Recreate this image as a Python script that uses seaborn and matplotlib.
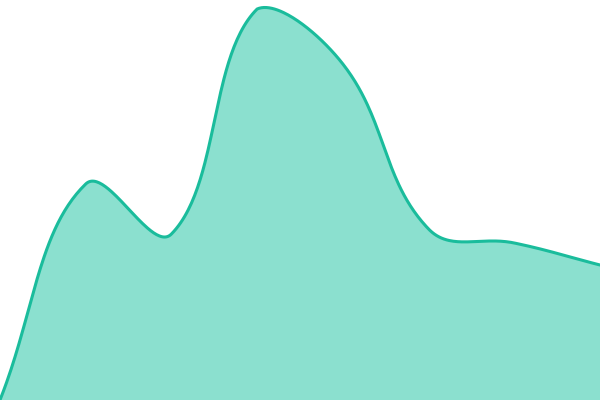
import numpy as np
import pandas as pd
import matplotlib
matplotlib.use("Agg")
import matplotlib.pyplot as plt
import seaborn as sns

# Data (8 evenly spaced categories, values in chart units 0..400)
categories = list(range(8))
values = [0, 216, 166, 391, 336, 171, 157, 135]

LINE = "#1abc9c"
FILL = "#8be0cf"

sns.set_theme(style="white")

W, H = 600, 400
fig = plt.figure(figsize=(6, 4), dpi=100)
ax = fig.add_axes([0, 0, 1, 1])
ax.set_xlim(0, W)
ax.set_ylim(0, H)

# pixel positions via linear scale
xs = np.array(categories, dtype=float) / (len(categories) - 1) * W
ys = np.array(values, dtype=float)

# Chart.js-style spline (tension 0.4)
tension = 0.4
n = len(xs)
cp_prev = np.zeros((n, 2))
cp_next = np.zeros((n, 2))
pts = np.column_stack([xs, ys])
for i in range(n):
    p0 = pts[max(i - 1, 0)]
    p1 = pts[i]
    p2 = pts[min(i + 1, n - 1)]
    d01 = np.hypot(*(p1 - p0))
    d12 = np.hypot(*(p2 - p1))
    tot = d01 + d12
    s01 = d01 / tot if tot else 0
    s12 = d12 / tot if tot else 0
    fa = tension * s01
    fb = tension * s12
    cp_prev[i] = p1 - fa * (p2 - p0)
    cp_next[i] = p1 + fb * (p2 - p0)
# clamp to area
cp_prev[:, 1] = np.clip(cp_prev[:, 1], 0, H)
cp_next[:, 1] = np.clip(cp_next[:, 1], 0, H)

t = np.linspace(0, 1, 60)[:, None]
curve = []
for i in range(n - 1):
    P0, P1, P2, P3 = pts[i], cp_next[i], cp_prev[i + 1], pts[i + 1]
    seg = ((1 - t) ** 3) * P0 + 3 * ((1 - t) ** 2) * t * P1 + 3 * (1 - t) * t ** 2 * P2 + t ** 3 * P3
    curve.append(seg if i == 0 else seg[1:])
curve = np.vstack(curve)

df = pd.DataFrame({"x": curve[:, 0], "y": curve[:, 1]})
ax.fill_between(df["x"], 0, df["y"], color=FILL, linewidth=0)
sns.lineplot(data=df, x="x", y="y", ax=ax, color=LINE, linewidth=2.2, sort=False, estimator=None)

ax.set_axis_off()
fig.savefig("out.png", dpi=100)
